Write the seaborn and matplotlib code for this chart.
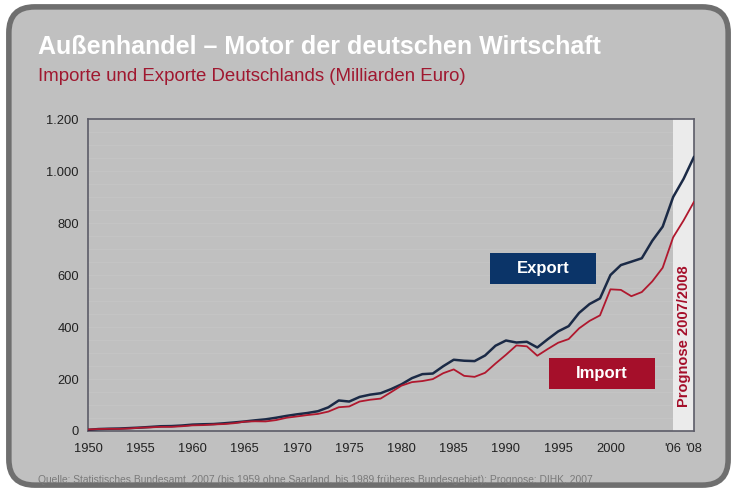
import matplotlib
matplotlib.use('Agg')
import matplotlib.pyplot as plt
from matplotlib.patches import FancyBboxPatch, Rectangle
import seaborn as sns
import pandas as pd
import numpy as np

# Jahreswerte, Mrd. Euro (2007/2008 Prognose)
years = list(range(1950, 2009))
exports = [4.3, 7.5, 8.7, 9.5, 11.3, 13.2, 15.7, 18.3, 18.9, 21.1,
           24.5, 25.9, 26.7, 29.6, 32.9, 36.6, 41.1, 44.9, 51.0, 58.1,
           64.1, 69.2, 76.0, 91.0, 117.4, 113.3, 131.1, 139.8, 145.2, 161.0,
           179.5, 203.3, 218.7, 221.0, 249.3, 274.1, 270.3, 268.9, 290.4, 328.1,
           348.1, 340.4, 343.2, 321.3, 353.1, 383.2, 403.4, 454.3, 488.4, 510.0,
           600.0, 638.3, 651.3, 664.5, 731.5, 786.3, 900.0, 970.0, 1055.0]
imports = [5.8, 7.5, 8.3, 8.2, 9.9, 12.6, 14.0, 16.0, 16.0, 18.3,
           21.7, 22.6, 25.2, 26.7, 30.0, 36.0, 37.3, 36.8, 41.9, 50.9,
           56.0, 61.3, 65.7, 74.6, 91.4, 94.4, 113.4, 120.2, 124.6, 149.3,
           174.5, 188.0, 192.1, 199.6, 222.4, 237.0, 212.1, 208.3, 223.8, 259.5,
           293.2, 329.2, 325.7, 289.6, 315.4, 339.6, 353.6, 394.8, 423.5, 444.8,
           545.0, 542.8, 518.5, 534.5, 575.4, 628.1, 745.0, 810.0, 882.0]
xtick_pos = [1950, 1955, 1960, 1965, 1970, 1975, 1980, 1985, 1990, 1995, 2000, 2006, 2008]
xtick_labels = ['1950', '1955', '1960', '1965', '1970', '1975', '1980', '1985',
                '1990', '1995', '2000', "'06", "'08"]
ytick_pos = [0, 200, 400, 600, 800, 1000, 1200]
ytick_labels = ['0', '200', '400', '600', '800', '1.000', '1.200']

df = pd.DataFrame({'Jahr': years * 2,
                   'Wert': exports + imports,
                   'Reihe': ['Export'] * len(years) + ['Import'] * len(years)})

bg = '#c0c0c0'
navy = '#0b3468'
red = '#a50f2a'

sns.set_theme(style='white')
plt.rcParams['font.family'] = ['Liberation Sans', 'DejaVu Sans']

fig = plt.figure(figsize=(7.37, 4.92), dpi=100)
fig.patch.set_facecolor('white')
frame = FancyBboxPatch((0.012, 0.014), 0.976, 0.972,
                       boxstyle='round,pad=0,rounding_size=0.035',
                       transform=fig.transFigure, facecolor=bg,
                       edgecolor='#6f6f6f', linewidth=4, zorder=-10,
                       mutation_aspect=737 / 492)
fig.patches.append(frame)

ax = fig.add_axes([0.1194, 0.124, 0.8223, 0.634])
ax.set_zorder(2)
ax.set_facecolor(bg)

# faint background lines
for v in np.arange(50, 1200, 50):
    ax.axhline(v, color='#cacaca', lw=0.6, alpha=0.5, zorder=0)

ax.axvspan(2006, 2008, color='#ebebeb', zorder=1, lw=0)

sns.lineplot(data=df, x='Jahr', y='Wert', hue='Reihe',
             palette={'Export': '#1b2a46', 'Import': '#b0182e'},
             linewidth=1.8, legend=False, ax=ax, zorder=3)
ax.lines[-1].set_linewidth(1.3)

ax.set_xlim(1950, 2008)
ax.set_ylim(0, 1200)
ax.set_xticks(xtick_pos)
ax.set_xticklabels(xtick_labels)
ax.set_yticks(ytick_pos)
ax.set_yticklabels(ytick_labels)
ax.set_xlabel('')
ax.set_ylabel('')
ax.tick_params(axis='both', which='both', labelsize=9.3, colors='#222222',
               length=3, width=0.8, direction='out')
ax.tick_params(axis='x', pad=6)
for s in ax.spines.values():
    s.set_color('#5c5c68')
    s.set_linewidth(1.2)

# label boxes
for (cx, cy), txt, col in [((0.751, 0.521), 'Export', navy),
                           ((0.848, 0.184), 'Import', red)]:
    ax.add_patch(Rectangle((cx - 0.0875, cy - 0.0497), 0.175, 0.0994,
                           transform=ax.transAxes, facecolor=col,
                           edgecolor='none', zorder=5))
    ax.text(cx, cy, txt, color='white', fontsize=12, fontweight='bold',
            ha='center', va='center', transform=ax.transAxes, zorder=6)

ax.text(2007.0, 365, 'Prognose 2007/2008', color=red, fontsize=10.5,
        fontweight='bold', rotation=90, ha='center', va='center', zorder=5)

fig.text(0.052, 0.905, 'Außenhandel – Motor der deutschen Wirtschaft',
         color='white', fontsize=18, fontweight='bold', ha='left', va='center')
fig.text(0.052, 0.845, 'Importe und Exporte Deutschlands (Milliarden Euro)',
         color='#a01830', fontsize=13.4, ha='left', va='center')
fig.text(0.052, 0.024, 'Quelle: Statistisches Bundesamt, 2007 (bis 1959 ohne Saarland, '
         'bis 1989 früheres Bundesgebiet); Prognose: DIHK, 2007',
         color='#7a7a7a', fontsize=7.4, ha='left', va='center')

fig.savefig('out.png', dpi=100, facecolor=fig.get_facecolor())
